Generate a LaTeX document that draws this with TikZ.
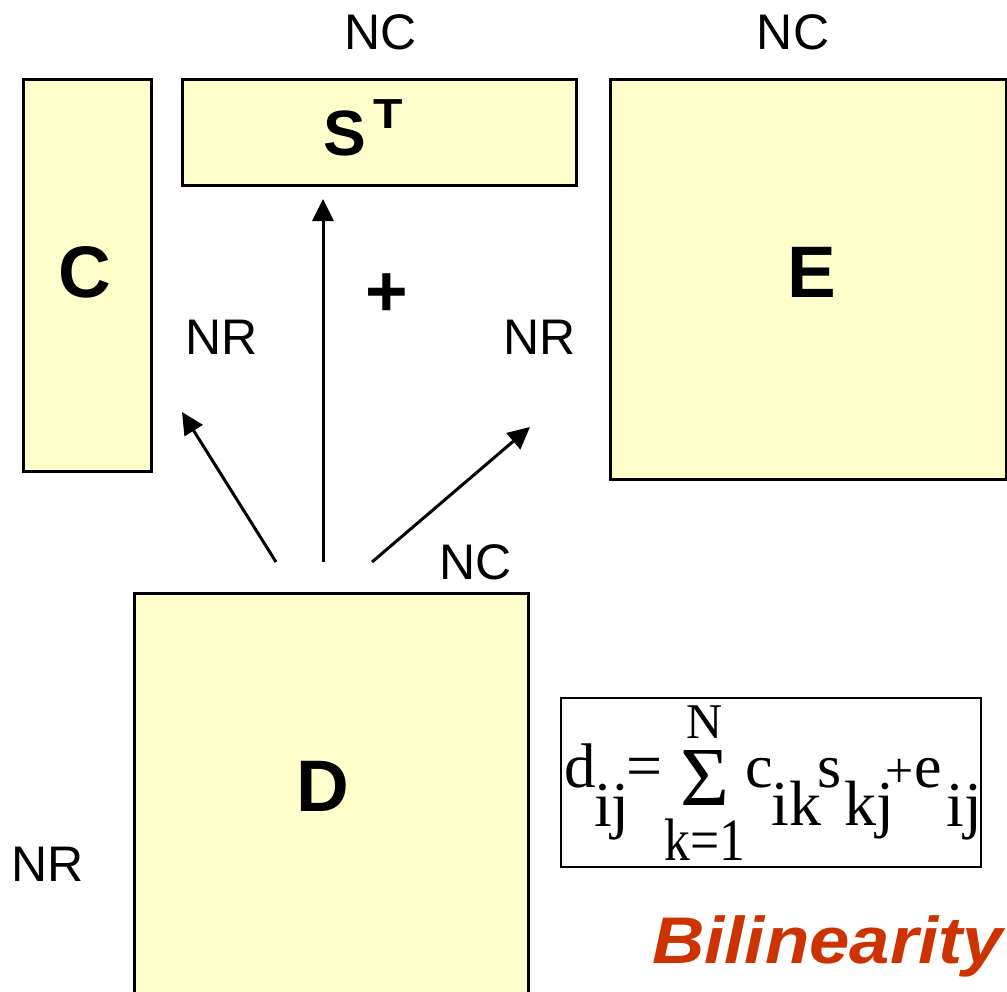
\documentclass[tikz,border=0pt]{standalone}
\usepackage{fontspec}
\usepackage{graphicx}
\setmainfont{Liberation Sans}
\newfontfamily\tnr{Liberation Serif}
\usetikzlibrary{arrows.meta}
\definecolor{matfill}{HTML}{FFFFCC}
\definecolor{bilin}{HTML}{CC3300}
\begin{document}
\begin{tikzpicture}[x=1pt,y=-1pt,
  mat/.style={draw=black, line width=2.5pt, fill=matfill, anchor=north west, inner sep=0},
  lab/.style={font=\fontsize{50}{50}\selectfont, anchor=base, inner sep=0},
  big/.style={font=\fontsize{73}{73}\selectfont\bfseries, anchor=base, inner sep=0},
  arr/.style={line width=3pt, -{Triangle[length=22pt,width=21pt]}},
  fm/.style={font=\fontsize{#1}{#1}\selectfont\tnr, anchor=base west, inner sep=0},
  fmc/.style={font=\fontsize{#1}{#1}\selectfont\tnr, anchor=base, inner sep=0},
]
\useasboundingbox (0,0) rectangle (1007,991);
\fill[white] (0,0) rectangle (1007,991);
% matrices
\node[mat, minimum width=128pt, minimum height=392pt] (C) at (22,78) {};
\node[mat, minimum width=394pt, minimum height=106pt] (S) at (181,78) {};
\node[mat, minimum width=396pt, minimum height=400pt] (E) at (609,78) {};
\node[mat, minimum width=394pt, minimum height=410pt] (D) at (133,592) {};
% letters
\node[big] (Cl) at (85,297) {C};
\node[big] (El) at (812,297) {E};
\node[big] (Dl) at (323,811) {D};
\node[font=\fontsize{64}{64}\selectfont\bfseries, anchor=base, inner sep=0] (Sl) at (345,155) {S};
\node[font=\fontsize{42}{42}\selectfont\bfseries, anchor=base, inner sep=0] (Tl) at (388,128) {\scalebox{1.15}[1]{T}};
\node[big] (plus) at (387,316) {+};
% dimension labels
\node[lab] (nc1) at (381,49) {NC};
\node[lab] (nc2) at (793,49) {NC};
\node[lab] (nr1) at (222,354) {NR};
\node[lab] (nr2) at (540,354) {NR};
\node[lab] (nc3) at (476,579) {NC};
\node[lab] (nr3) at (48,881) {NR};
% arrows
\coordinate (a1) at (276,562);
\coordinate (t1) at (182,412);
\coordinate (a2) at (323,562);
\coordinate (t2) at (323,199);
\coordinate (a3) at (372,562);
\coordinate (t3) at (530,427);
\draw[arr] (a1) -- (t1);
\draw[arr] (a2) -- (t2);
\draw[arr] (a3) -- (t3);
% formula box
\node[draw=black, line width=2pt, anchor=north west, inner sep=0, minimum width=420pt, minimum height=169pt] (F) at (560,697) {};
\node[fm=63] (f1) at (564,787) {d};
\node[fm=64] (f2) at (594,826) {ij};
\node[fmc=64] (f3) at (645,787) {=};
\node[fmc=50] (f4) at (705,738) {N};
\node[fmc=84] (f5) at (705,805) {Σ};
\node[fmc=60] (f6) at (705,860) {\scalebox{0.86}[1]{k=1}};
\node[fm=62] (f7) at (745,787) {c};
\node[fm=64] (f8) at (771,825) {ik};
\node[fm=62] (f9) at (817,787) {s};
\node[fm=64] (f10) at (844,825) {kj};
\node[fmc=50] (f11) at (900,787) {+};
\node[fm=62] (f12) at (914,787) {e};
\node[fm=64] (f13) at (946,826) {ij};
% title
\node[font=\fontsize{66}{66}\selectfont\bfseries\itshape, text=bilin, anchor=base west, inner sep=0] (bl) at (652,963) {\scalebox{1.1}[1]{Bilinearity}};
\end{tikzpicture}
\end{document}
